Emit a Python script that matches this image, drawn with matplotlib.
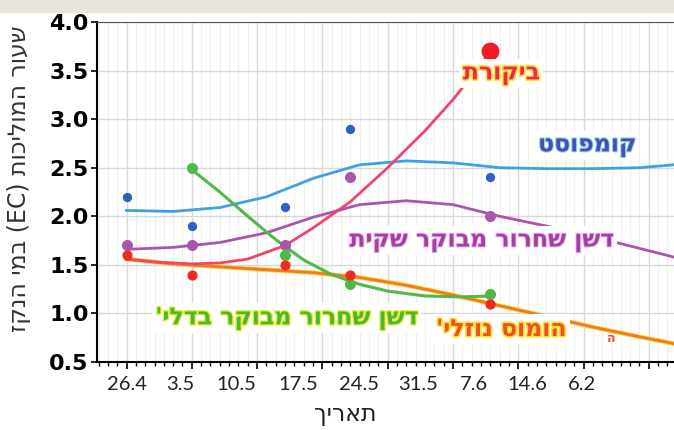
import numpy as np
import matplotlib
matplotlib.use("Agg")
import matplotlib.pyplot as plt
import matplotlib.patheffects as pe
from matplotlib.patches import Rectangle
from matplotlib.ticker import MultipleLocator


def rtl(s):
    # matplotlib has no bidi support: put Hebrew words in visual order
    out = []
    for w in reversed(s.split(' ')):
        if any('\u0590' <= c <= '\u05ff' for c in w):
            out.append(w[::-1])
        else:
            out.append(w)
    return ' '.join(out)


# sampling days (days after 26.4)
days = [0, 7, 17, 24, 39]
compost = [2.2, 1.9, 2.1, 2.9, 2.4]
bag = [1.7, 1.7, 1.7, 2.4, 2.0]
bucket_days = [7, 17, 24, 39]
bucket = [2.5, 1.6, 1.3, 1.2]
humus = [1.6, 1.4, 1.5, 1.4, 1.1]
control_day = [39]
control = [3.7]

# trend lines
compost_tr_x = [0, 5, 10, 15, 20, 25, 30, 35, 40, 45, 50, 55, 58.7]
compost_tr = [2.06, 2.05, 2.09, 2.2, 2.39, 2.53, 2.57, 2.55, 2.5, 2.49, 2.49, 2.5, 2.53]
bag_tr_x = [0, 5, 10, 15, 20, 25, 30, 35, 40, 45, 50, 55, 58.7]
bag_tr = [1.66, 1.68, 1.73, 1.83, 1.99, 2.12, 2.16, 2.12, 2.0, 1.9, 1.79, 1.67, 1.58]
bucket_tr_x = [7, 10, 13, 16, 19, 22, 25, 28, 32, 36, 39]
bucket_tr = [2.48, 2.25, 2.0, 1.76, 1.55, 1.4, 1.3, 1.23, 1.18, 1.17, 1.18]
humus_tr_x = [0, 5, 10, 15, 20, 25, 30, 35, 40, 45, 50, 55, 58.7]
humus_tr = [1.56, 1.51, 1.48, 1.45, 1.42, 1.37, 1.29, 1.19, 1.08, 0.97, 0.86, 0.76, 0.69]
control_tr_x = [0, 3, 7, 10, 13, 17, 20, 24, 28, 32, 35, 38.7]
control_tr = [1.56, 1.53, 1.51, 1.52, 1.56, 1.7, 1.88, 2.15, 2.5, 2.88, 3.2, 3.65]

date_labels = ['26.4', '3.5', '10.5', '17.5', '24.5', '31.5', '7.6', '14.6', '6.2']
date_pos = [0.05, 5.8, 11.8, 18.4, 24.9, 31.3, 37.2, 43.0, 48.8]

fig = plt.figure(figsize=(6.74, 4.30), dpi=100)
fig.patches.append(Rectangle((0, 0.972), 1, 0.028, transform=fig.transFigure,
                             color='#e9e3dc', zorder=0))
ax = fig.add_axes([0.144, 0.158, 0.856, 0.791])
ax.set_xlim(-3.16, 58.7)
ax.set_ylim(0.5, 4.0)

ax.xaxis.set_major_locator(MultipleLocator(7))
ax.xaxis.set_minor_locator(MultipleLocator(1))
ax.grid(which='major', axis='both', color='#d8d8d8', lw=1)
ax.grid(which='minor', axis='x', color='#efefef', lw=0.8)
ax.set_axisbelow(True)
ax.tick_params(axis='x', which='major', length=5, width=1.2, labelbottom=False)
ax.tick_params(axis='x', which='minor', length=3, width=1)
ax.tick_params(axis='y', length=4, width=1.2, pad=2)
ax.set_yticks([0.5, 1.0, 1.5, 2.0, 2.5, 3.0, 3.5, 4.0])
ax.set_yticklabels([f'{v:.1f}' for v in ax.get_yticks()], fontweight='bold', fontsize=16)
for s in ['left', 'bottom']:
    ax.spines[s].set_linewidth(1.5)
ax.spines['right'].set_visible(False)
ax.spines['top'].set_color('#555555')

sec = ax.secondary_xaxis('bottom')
sec.set_xticks(date_pos, date_labels, fontfamily='Lato', fontsize=14.5, color='#222222')
sec.tick_params(length=0, pad=10)
sec.spines['bottom'].set_visible(False)

ax.set_xlabel(rtl('תאריך'), fontsize=17, color='#222222', labelpad=22, x=0.43)
ax.set_ylabel(rtl('שעור המוליכות (EC) במי הנקז'), fontsize=17, color='#333333')
ax.yaxis.set_label_coords(-0.115, 0.54)

# trend lines
ax.plot(compost_tr_x, compost_tr, color='#3da2e3', lw=2)
ax.plot(bag_tr_x, bag_tr, color='#a955ab', lw=2)
ax.plot(humus_tr_x, humus_tr, color='#f47a1f', lw=2,
        path_effects=[pe.Stroke(linewidth=3.2, foreground='#ffd23a'), pe.Normal()])
ax.plot(bucket_tr_x, bucket_tr, color='#52b848', lw=2.2)
ax.plot(control_tr_x, control_tr, color='#f0436d', lw=2)

# measured points
ax.scatter(days, compost, s=32, color='#2f5fc4', zorder=5)
ax.scatter(days, bag, s=48, color='#a955ab', zorder=5)
ax.scatter(bucket_days, bucket, s=48, color='#4fb846', zorder=5)
ax.scatter(days, humus, s=40, color='#ee2a1f', zorder=5)
ax.scatter(control_day, control, s=140, color='#ee1c24', zorder=6)

box = dict(facecolor='white', edgecolor='none', pad=2)
lab = dict(fontsize=17, fontweight='bold', ha='center', va='center', zorder=7)
ax.text(40.2, 3.47, rtl('ביקורת'), color='#ee2a4a', bbox=box,
        path_effects=[pe.withStroke(linewidth=2.5, foreground='#ffe24a')], **lab)
ax.text(49.4, 2.73, rtl('קומפוסט'), color='#4a4db5', bbox=box,
        path_effects=[pe.withStroke(linewidth=1.5, foreground='#8fd7f0')], **lab)
ax.text(38.1, 1.75, rtl('דשן שחרור מבוקר שקית'), color='#a43fa3', bbox=box,
        path_effects=[pe.withStroke(linewidth=1.5, foreground='#f2c4f0')], **lab)
ax.text(17.2, 0.95, rtl("דשן שחרור מבוקר בדלי'"), color='#4fb530', bbox=box,
        path_effects=[pe.withStroke(linewidth=2, foreground='#e6f03c')], **lab)
ax.text(40.2, 0.84, rtl("הומוס נוזלי'"), color='#f0501e', bbox=box,
        path_effects=[pe.withStroke(linewidth=2.5, foreground='#ffe03a')], **lab)
ax.text(52, 0.74, 'ה', color='#f0501e', fontsize=9, fontweight='bold',
        ha='center', va='center', zorder=7)

fig.savefig('out.png', dpi=100)
